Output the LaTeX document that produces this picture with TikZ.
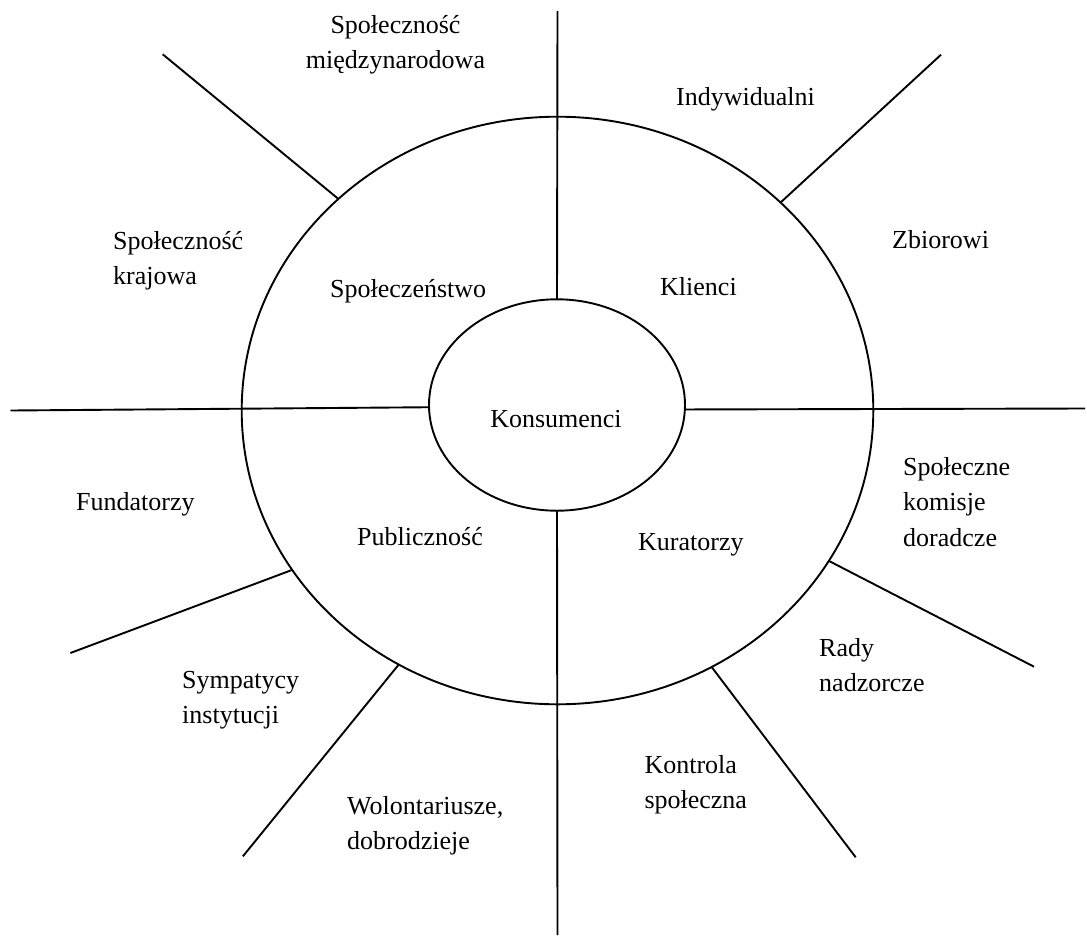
\documentclass[tikz,border=0pt]{standalone}
\usepackage{fontspec}
\setmainfont{Liberation Serif}
\usetikzlibrary{shapes.geometric}
% multi-line labels whose first baseline sits on the node's base anchor
\newcommand\leftlines[1]{\begin{tabular}[t]{@{}l@{}}#1\end{tabular}}
\newcommand\midlines[1]{\begin{tabular}[t]{@{}c@{}}#1\end{tabular}}
\begin{document}
\begin{tikzpicture}[x=1pt,y=-1pt,
  ring/.style={draw, ellipse, line width=1.9pt, inner sep=0pt, outer sep=0pt},
  ray/.style={line width=1.9pt},
  lbl/.style={inner sep=0pt, anchor=base west, font=\fontsize{26}{35.5}\selectfont},
  clbl/.style={lbl, anchor=base}
]
\useasboundingbox (0,0) rectangle (1087,938);

% the two rings
\node[ring, minimum width=631.6pt, minimum height=587.6pt] (outer) at (557.5,410.5) {};
\node[ring, minimum width=256pt, minimum height=211.4pt] (inner) at (557,405) {};

% free ends of the spokes
\coordinate (nTop) at (557.5,11);
\coordinate (nBot) at (557.5,935);
\coordinate (wEnd) at (10.5,410.5);
\coordinate (eEnd) at (1085,408.5);
\coordinate (nwEnd) at (162.7,54.3);
\coordinate (neEnd) at (941,54.7);
\coordinate (eseEnd) at (1034,666.7);
\coordinate (sseEnd) at (855.7,857.3);
\coordinate (wswEnd) at (70.4,653);
\coordinate (sswEnd) at (242.9,856.3);

% spokes through the outer ring down to the inner one
\draw[ray] (nTop) -- (inner.north);
\draw[ray] (inner.south) -- (nBot);
\draw[ray] (wEnd) -- (inner.181.8);
\draw[ray] (inner.358.3) -- (eEnd);

% spokes standing on the outer ring
\draw[ray] (nwEnd) -- (outer.136.6);
\draw[ray] (neEnd) -- (outer.43.1);
\draw[ray] (eseEnd) -- (outer.331.3);
\draw[ray] (sseEnd) -- (outer.301.8);
\draw[ray] (wswEnd) -- (outer.211.5);
\draw[ray] (sswEnd) -- (outer.238.1);

% labels
\node[clbl] (intl) at (395.5,33.3) {\midlines{Społeczność\\międzynarodowa}};
\node[lbl] (natl) at (113,249.3) {\leftlines{Społeczność\\krajowa}};
\node[lbl] (indiv) at (676,105) {Indywidualni};
\node[lbl] (coll) at (892,248.3) {Zbiorowi};
\node[lbl] (society) at (330,297.3) {Społeczeństwo};
\node[lbl] (clients) at (660,295) {Klienci};
\node[clbl] (consumers) at (556,427) {Konsumenci};
\node[lbl] (founders) at (76,510.7) {Fundatorzy};
\node[lbl] (public) at (357,545) {Publiczność};
\node[lbl] (curators) at (638,550) {Kuratorzy};
\node[lbl] (advisory) at (903,475) {\leftlines{Społeczne\\komisje\\doradcze}};
\node[lbl] (boards) at (819,656) {\leftlines{Rady\\nadzorcze}};
\node[lbl] (sympath) at (182,688.3) {\leftlines{Sympatycy\\instytucji}};
\node[lbl] (control) at (644.3,773.3) {\leftlines{Kontrola\\społeczna}};
\node[lbl] (volunteers) at (347,814) {\leftlines{Wolontariusze,\\dobrodzieje}};
\end{tikzpicture}
\end{document}
